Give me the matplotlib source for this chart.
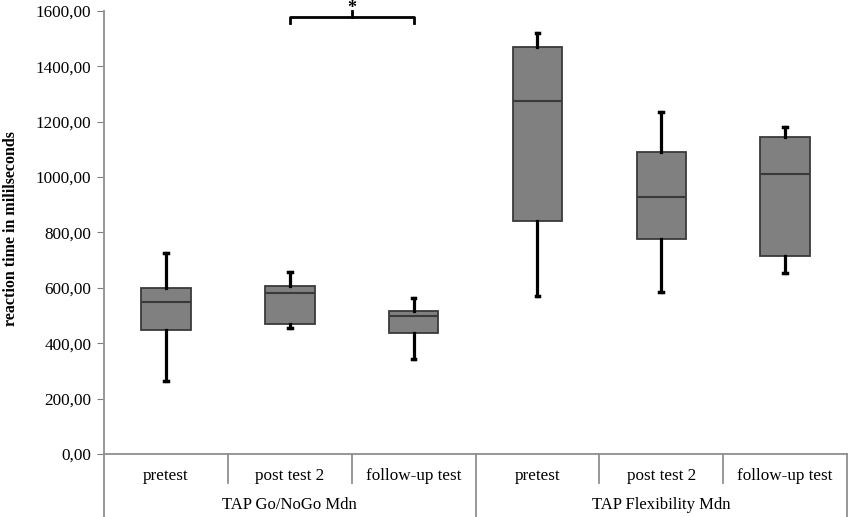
import matplotlib
matplotlib.use('Agg')
import matplotlib.pyplot as plt
import matplotlib.transforms as mtransforms

plt.rcParams['font.family'] = ['Liberation Serif', 'DejaVu Serif']

# Werte
conditions = ['pretest', 'post test 2', 'follow-up test',
              'pretest', 'post test 2', 'follow-up test']
groups = ['TAP Go/NoGo Mdn', 'TAP Flexibility Mdn']
whislo = [265, 456, 342, 572, 586, 653]
q1 = [448, 468, 438, 843, 775, 716]
med = [550, 580, 497, 1276, 929, 1011]
q3 = [598, 607, 518, 1469, 1091, 1145]
whishi = [725, 658, 565, 1519, 1236, 1182]

stats = []
for i in range(len(conditions)):
    stats.append({'whislo': whislo[i], 'q1': q1[i], 'med': med[i],
                  'q3': q3[i], 'whishi': whishi[i], 'fliers': []})

fig = plt.figure(figsize=(8.5, 5.17), dpi=100)
ax = fig.add_axes([0.1224, 0.1219, 0.8741, 0.8568])

pos = list(range(len(conditions)))
ax.bxp(stats, positions=pos, widths=0.4, patch_artist=True, showfliers=False,
       capwidths=0.03,
       boxprops=dict(facecolor='#808080', edgecolor='#3a3a3a', linewidth=1.3),
       medianprops=dict(color='#3a3a3a', linewidth=1.5),
       whiskerprops=dict(color='black', linewidth=2.3),
       capprops=dict(color='black', linewidth=2.5))

ax.set_xlim(-0.5, 5.5)
ax.set_ylim(0, 1600)
ax.set_yticks(range(0, 1601, 200))
ax.set_yticklabels([f'{v},00' for v in range(0, 1601, 200)], fontsize=12.3)
ax.tick_params(axis='y', length=5, color='#808080', pad=4)
ax.set_xticks([])
for s in ['top', 'right']:
    ax.spines[s].set_visible(False)
for s in ['left', 'bottom']:
    ax.spines[s].set_color('#909090')
    ax.spines[s].set_linewidth(1.3)
ax.set_ylabel('reaction time in mililseconds', fontsize=11.5, fontweight='bold')
ax.yaxis.set_label_coords(-0.114, 0.51)

# zweistufige Kategorienachse
tr = mtransforms.blended_transform_factory(ax.transData, ax.transAxes)
for i, c in enumerate(conditions):
    ax.text(i, -0.049, c, transform=tr, ha='center', va='center', fontsize=12.3)
for k in range(1, 6):
    if k == 3:
        continue
    ax.plot([k - 0.5, k - 0.5], [0, -0.066], transform=tr, color='#909090',
            lw=1.3, clip_on=False)
for xb in [-0.5, 2.5, 5.5]:
    ax.plot([xb, xb], [0, -0.145], transform=tr, color='#909090',
            lw=1.3, clip_on=False)
for g, xc in zip(groups, [1, 4]):
    ax.text(xc, -0.115, g, transform=tr, ha='center', va='center', fontsize=12)

# Signifikanzklammer
ax.plot([1, 1, 2, 2], [1558, 1580, 1580, 1558], color='black', lw=2, clip_on=False)
ax.plot([1.5, 1.5], [1580, 1600], color='black', lw=2, clip_on=False)
ax.text(1.5, 1593, '*', ha='center', va='baseline', fontsize=13, fontweight='bold')

fig.savefig('out.png', dpi=100)
